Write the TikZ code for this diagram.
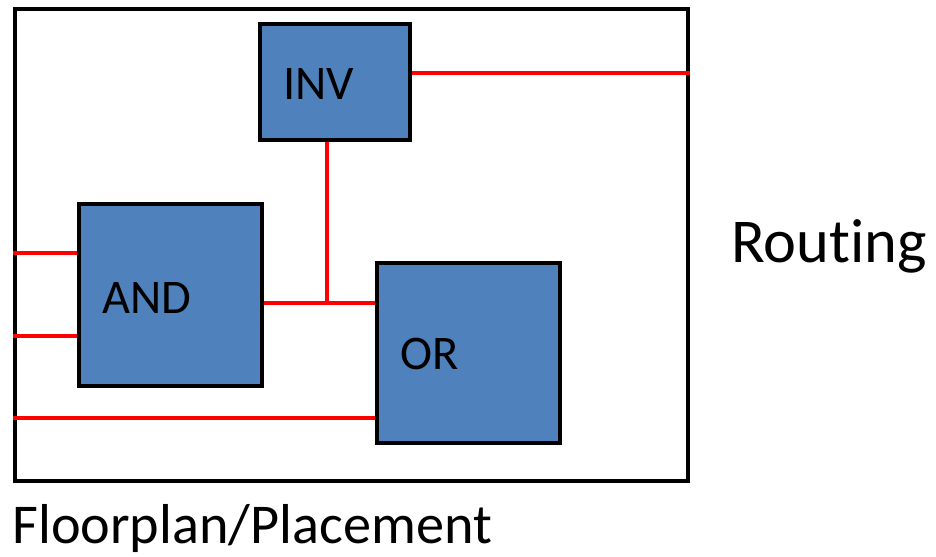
\documentclass[tikz,border=0pt]{standalone}
\usepackage{fontspec}
\setmainfont{Carlito}[Ligatures=CommonOff]
\usetikzlibrary{calc}
\definecolor{gateblue}{HTML}{4F81BD}
\definecolor{wirered}{HTML}{FF0000}
\tikzset{
  gate/.style={draw=black, fill=gateblue, line width=2.2pt, rectangle, inner sep=0pt},
  wire/.style={draw=wirered, line width=2pt},
  gatelabel/.style={anchor=base west, inner sep=0pt, font=\fontsize{27.5}{30}\selectfont},
  caption/.style={anchor=base west, inner sep=0pt},
}
\begin{document}
\begin{tikzpicture}[x=0.02cm, y=-0.02cm]
  \useasboundingbox (0,0) rectangle (936,557);

  % chip outline
  \node[draw=black, line width=2.2pt, rectangle, inner sep=0pt,
        minimum width=673*0.02cm, minimum height=472*0.02cm] (frame) at (351.5,245) {};

  % wiring junctions
  \coordinate (tap) at (327,303);
  \coordinate (outy) at (0,73);
  \coordinate (in1) at (0,253);
  \coordinate (in2) at (0,336);
  \coordinate (in3) at (0,418);

  % wire below the cells
  \draw[wire] (frame.west |- in3) -- (377,418);

  % logic cells
  \node[gate, minimum width=150*0.02cm, minimum height=116*0.02cm] (inv) at (335,82) {};
  \node[gate, minimum width=183*0.02cm, minimum height=182*0.02cm] (and) at (170.5,295) {};
  \node[gate, minimum width=183*0.02cm, minimum height=180*0.02cm] (or) at (468.5,353) {};

  \draw[wire] (inv.east |- outy) -- (frame.east |- outy);
  \draw[wire] (inv.south -| tap) -- (tap);
  \draw[wire] (and.east |- tap) -- (or.west |- tap);
  \draw[wire] (frame.west |- in1) -- (and.west |- in1);
  \draw[wire] (frame.west |- in2) -- (and.west |- in2);

  % cell names
  \node[gatelabel] (invtext) at (283,100) {INV};
  \node[gatelabel] (andtext) at (102,313) {AND};
  \node[gatelabel] (ortext) at (400,369) {OR};

  % step captions
  \node[caption, font=\fontsize{35.5}{40}\selectfont] (routing) at (731,262) {Routing};
  \node[caption, font=\fontsize{32}{38}\selectfont] (placement) at (12,543) {Floorplan/Placement};
\end{tikzpicture}
\end{document}
